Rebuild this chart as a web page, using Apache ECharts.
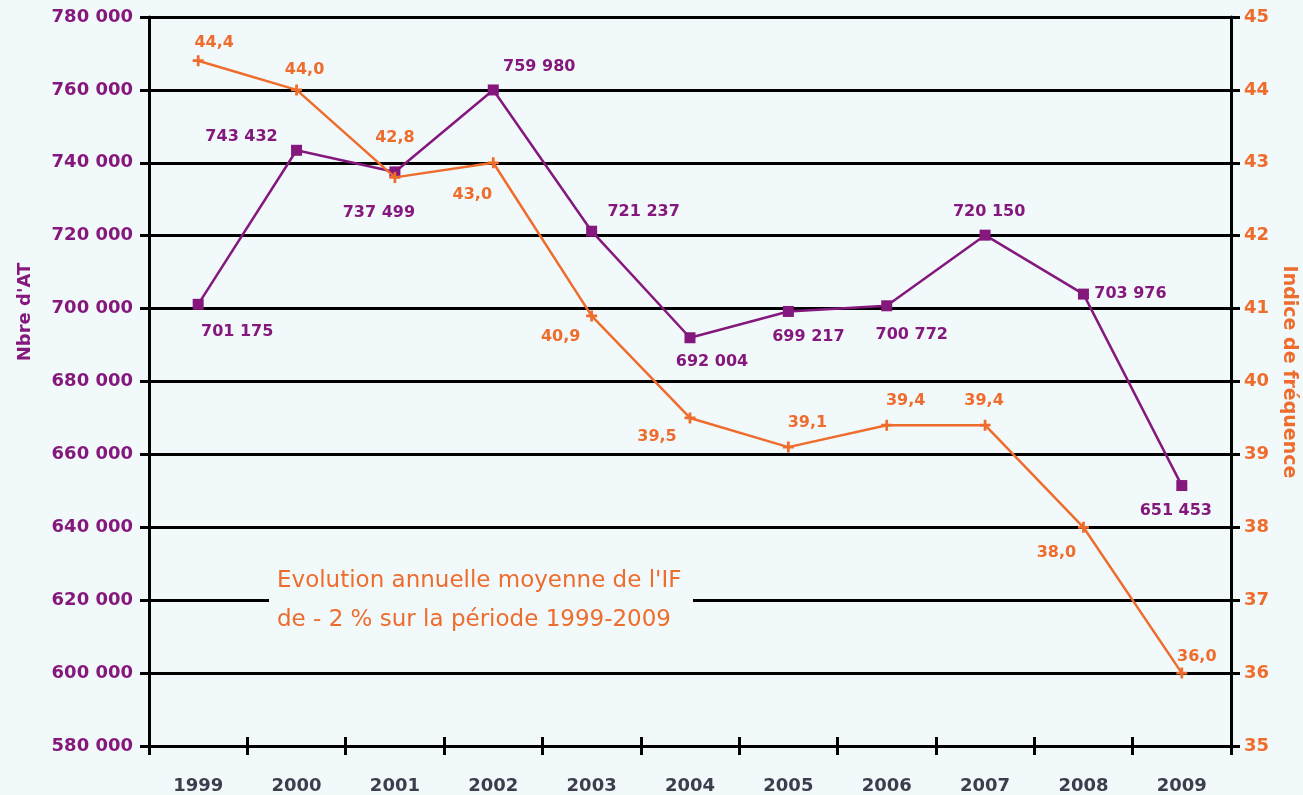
<!DOCTYPE html>
<html>
<head>
<meta charset="utf-8">
<script src="https://cdn.jsdelivr.net/npm/echarts@6/dist/echarts.min.js"></script>
<style>
html,body{margin:0;padding:0;background:#f2f9fb;}
#chart{width:1303px;height:795px;}
</style>
</head>
<body>
<div id="chart"></div>
<script>
// ---- data ----
const years = ['1999','2000','2001','2002','2003','2004','2005','2006','2007','2008','2009'];
const nbAT = [701175, 743432, 737499, 759980, 721237, 692004, 699217, 700772, 720150, 703976, 651453];
const indiceFreq = [44.4, 44.0, 42.8, 43.0, 40.9, 39.5, 39.1, 39.4, 39.4, 38.0, 36.0];
const leftTicks = {min: 580000, max: 780000, interval: 20000};
const rightTicks = {min: 35, max: 45, interval: 1};
const leftAxisName = "Nbre d'AT";
const rightAxisName = 'Indice de fréquence';
const noteLines = ["Evolution annuelle moyenne de l'IF", 'de - 2 % sur la période 1999-2009'];

// ---- label placement (layout only) ----
const atOffsets = [[39,28],[-55,-13],[-16,41],[46,-23],[52,-19],[22,24],[20,25],[25,29],[4,-23],[47,0],[-6,25]];
const ifOffsets = [[16,-18],[8,-20],[0,-40],[-21,32],[-31,21],[-33,19],[19,-24],[19,-24],[-1,-24],[-27,26],[15,-16]];

const PURPLE = '#84187c';
const ORANGE = '#ee6c2c';
const BG = '#f2f9fb';

function fmtAT(v){ return String(v).replace(/\B(?=(\d{3})+(?!\d))/g, ' '); }
function fmtIF(v){ return v.toFixed(1).replace('.', ','); }

const chart = echarts.init(document.getElementById('chart'));
chart.setOption({
  backgroundColor: BG,
  animation: false,
  grid: {left: 149, right: 72, top: 17, bottom: 47, containLabel: false},
  xAxis: [{
    type: 'category', data: years, boundaryGap: true,
    axisLine: {lineStyle: {color: '#000', width: 3}},
    axisTick: {show: true, length: 9, inside: false, lineStyle: {color: '#000', width: 3}},
    axisLabel: {color: '#3d3d4d', fontSize: 18, fontWeight: 'bold', fontFamily: 'DejaVu Sans', margin: 31}
  }, {
    type: 'category', data: years, boundaryGap: true, position: 'bottom', offset: 0,
    axisLine: {show: false},
    axisTick: {show: true, length: 9, inside: true, lineStyle: {color: '#000', width: 3}},
    axisLabel: {show: false}
  }],
  yAxis: [{
    type: 'value', min: leftTicks.min, max: leftTicks.max, interval: leftTicks.interval,
    position: 'left',
    axisLine: {show: true, lineStyle: {color: '#000', width: 3}},
    axisTick: {show: true, length: 9, lineStyle: {color: '#000', width: 3}},
    splitLine: {show: true, lineStyle: {color: '#000', width: 3}},
    axisLabel: {color: PURPLE, fontSize: 18, fontWeight: 'bold', fontFamily: 'DejaVu Sans', margin: 16, formatter: fmtAT}
  }, {
    type: 'value', min: rightTicks.min, max: rightTicks.max, interval: rightTicks.interval,
    position: 'right',
    axisLine: {show: true, lineStyle: {color: '#000', width: 3}},
    axisTick: {show: true, length: 9, lineStyle: {color: '#000', width: 3}},
    splitLine: {show: false},
    axisLabel: {color: ORANGE, fontSize: 18, fontWeight: 'bold', fontFamily: 'DejaVu Sans', margin: 13}
  }],
  graphic: [
    {type: 'rect', left: 269, top: 556, shape: {width: 424, height: 80}, style: {fill: BG}, z: 1},
    {type: 'text', left: 277, top: 562, z: 2,
      style: {text: noteLines.join('\n'), fill: ORANGE, fontSize: 23, fontFamily: 'DejaVu Sans', lineHeight: 39}},
    {type: 'text', x: 25, y: 312, rotation: Math.PI/2, z: 2,
      style: {text: leftAxisName, fill: PURPLE, fontSize: 18, fontWeight: 'bold', fontFamily: 'DejaVu Sans', align: 'center', verticalAlign: 'middle'}},
    {type: 'text', x: 1289, y: 372, rotation: -Math.PI/2, z: 2,
      style: {text: rightAxisName, fill: ORANGE, fontSize: 19, fontWeight: 'bold', fontFamily: 'DejaVu Sans', align: 'center', verticalAlign: 'middle'}}
  ],
  series: [{
    name: leftAxisName, type: 'line', xAxisIndex: 0, yAxisIndex: 0,
    data: nbAT.map((v, i) => ({value: v, label: {offset: atOffsets[i]}})),
    symbol: 'rect', symbolSize: 11,
    lineStyle: {color: PURPLE, width: 2.5}, itemStyle: {color: PURPLE},
    label: {show: true, position: 'inside', align: 'center', verticalAlign: 'middle',
      color: PURPLE, fontSize: 16, fontWeight: 'bold', fontFamily: 'DejaVu Sans', formatter: p => fmtAT(p.value)},
    z: 3
  }, {
    name: rightAxisName, type: 'line', xAxisIndex: 0, yAxisIndex: 1,
    data: indiceFreq.map((v, i) => ({value: v, label: {offset: ifOffsets[i]}})),
    symbol: 'path://M3,0H5V3H8V5H5V8H3V5H0V3H3Z', symbolSize: 11,
    lineStyle: {color: ORANGE, width: 2.5}, itemStyle: {color: ORANGE},
    label: {show: true, position: 'inside', align: 'center', verticalAlign: 'middle',
      color: ORANGE, fontSize: 16, fontWeight: 'bold', fontFamily: 'DejaVu Sans', formatter: p => fmtIF(p.value)},
    z: 4
  }]
});
</script>
</body>
</html>
